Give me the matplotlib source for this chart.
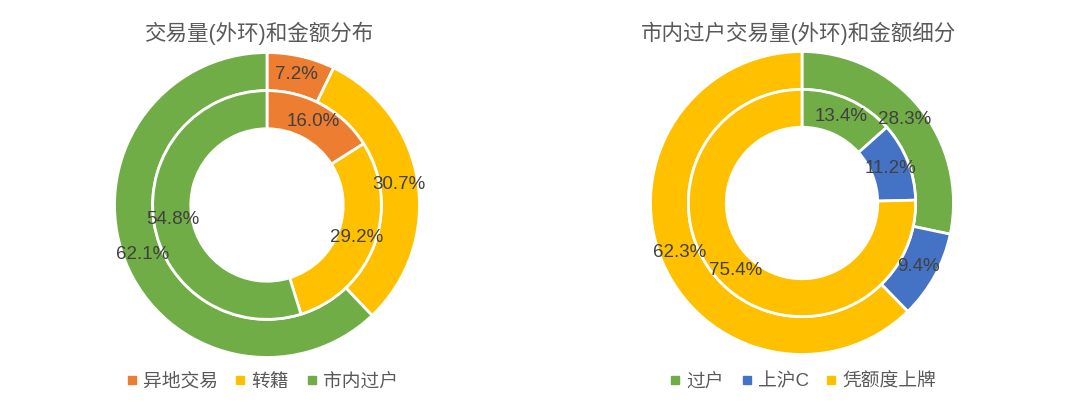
import matplotlib
matplotlib.use("Agg")
import matplotlib.pyplot as plt
from matplotlib.lines import Line2D

plt.rcParams['font.family'] = ['Liberation Sans', 'Noto Sans CJK SC', 'DejaVu Sans']

# Left chart: volume (outer) and amount (inner)
left_title = "交易量(外环)和金额分布"
left_cats = ["异地交易", "转籍", "市内过户"]
left_outer = [7.2, 30.7, 62.1]
left_inner = [16.0, 29.2, 54.8]
left_colors = ["#ED7D31", "#FFC000", "#70AD47"]

# Right chart: breakdown of in-city transfers
right_title = "市内过户交易量(外环)和金额细分"
right_cats = ["过户", "上沪C", "凭额度上牌"]
right_outer = [28.3, 9.4, 62.3]
right_inner = [13.4, 11.2, 75.4]
right_colors = ["#70AD47", "#4472C4", "#FFC000"]

W, H = 1080, 405
fig = plt.figure(figsize=(W / 100, H / 100), dpi=100)
label_color = "#404040"


def donut(cx, cy, r, outer, inner, colors, title, cats, title_x, legend_x):
    ax = fig.add_axes([(cx - r) / W, (H - cy - r) / H, 2 * r / W, 2 * r / H])
    wp = dict(width=0.25, edgecolor="white", linewidth=2)
    tp = dict(color=label_color, fontsize=13.5)
    ax.pie(outer, colors=colors, radius=1.0, startangle=90, counterclock=False,
           wedgeprops=wp, autopct="%.1f%%", pctdistance=0.875, textprops=tp)
    ax.pie(inner, colors=colors, radius=0.75, startangle=90, counterclock=False,
           wedgeprops=wp, autopct="%.1f%%", pctdistance=0.625 / 0.75, textprops=tp)
    ax.set_xlim(-1.01, 1.01)
    ax.set_ylim(-1.01, 1.01)
    ax.set_aspect("equal")
    ax.axis("off")

    fig.text(title_x / W, 1 - 33 / H, title, ha="center", va="center",
             fontsize=15.5, color="#595959")

    handles = [Line2D([], [], marker="s", linestyle="", markersize=6,
                      color=c) for c in colors]
    fig.legend(handles, cats, loc="center", bbox_to_anchor=(legend_x / W, 1 - 382 / H),
               ncol=3, frameon=False, fontsize=13.5, handlelength=0.6,
               handletextpad=0.3, columnspacing=0.9, labelcolor="#595959")


donut(267, 205, 154, left_outer, left_inner, left_colors, left_title, left_cats,
      259, 262)
donut(802, 203, 153, right_outer, right_inner, right_colors, right_title, right_cats,
      799, 803)

fig.savefig("out.png", dpi=100, facecolor="white")
